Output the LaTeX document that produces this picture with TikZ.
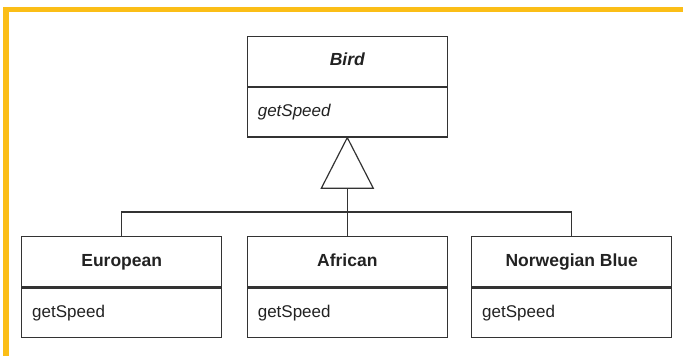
\documentclass[tikz,border=0pt]{standalone}
\usepackage{fontspec}
\setmainfont{Liberation Sans}
\definecolor{frameyellow}{HTML}{FBBE17}
\definecolor{linegray}{HTML}{333333}
\definecolor{textgray}{HTML}{222222}
\begin{document}
\begin{tikzpicture}[x=1pt,y=-1pt,
  hdr/.style={draw=linegray,line width=1.2pt,minimum width=200pt,minimum height=50pt,inner sep=0pt,
    text height=12.5pt,text depth=3.5pt,
    font=\fontsize{17.5}{19}\selectfont\bfseries,text=textgray},
  body/.style={draw=linegray,line width=1.2pt,minimum width=200pt,minimum height=49.5pt,inner xsep=10.5pt,inner ysep=0pt,
    text height=12.5pt,text depth=3.5pt,
    text width=179pt,align=left,font=\fontsize{17}{19}\selectfont,text=textgray},
  conn/.style={draw=linegray,line width=1.2pt}]
\useasboundingbox (0,0) rectangle (683,356);
\fill[frameyellow] (3.3,7) rectangle (683,12);
\fill[frameyellow] (3.3,7) rectangle (9,356);
% Bird
\node[hdr,font=\fontsize{17.5}{19}\selectfont\bfseries\itshape] (bird) at (347.3,61.3) {Bird};
\node[body,anchor=north,font=\fontsize{17}{19}\selectfont\itshape] (birdops) at (bird.south) {getSpeed};
% subclasses
\node[hdr] (euro) at (121.7,261.7) {European};
\node[body,anchor=north] (euroops) at (euro.south) {getSpeed};
\node[hdr] (afr) at (347.3,261.7) {African};
\node[body,anchor=north] (afrops) at (afr.south) {getSpeed};
\node[hdr] (norw) at (571.7,261.7) {Norwegian Blue};
\node[body,anchor=north] (norwops) at (norw.south) {getSpeed};
% generalization
\coordinate (tribase) at ([yshift=-50.7pt]birdops.south);
\coordinate (junction) at (347.3,212);
\draw[conn,line join=miter] (birdops.south) -- ([xshift=-26pt]tribase) -- ([xshift=26pt]tribase) -- cycle;
\draw[conn] (tribase) -- (junction);
\draw[conn] (euro.north) |- (junction) -| (norw.north);
\draw[conn] (junction) -- (afr.north);
\end{tikzpicture}
\end{document}
